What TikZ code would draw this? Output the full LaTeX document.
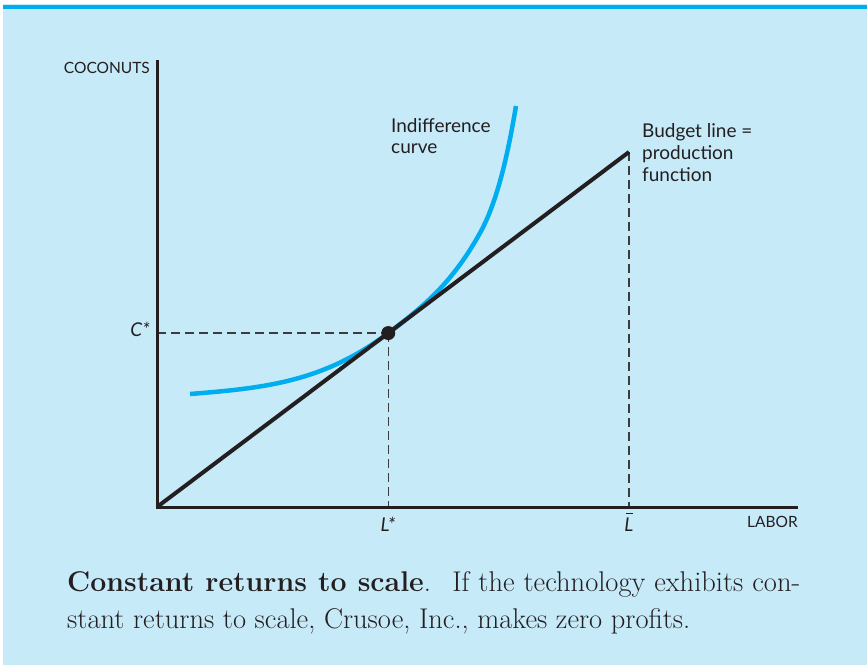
\documentclass[tikz,border=0pt]{standalone}
\usepackage{fontspec}
\newfontfamily\labfont{Lato}
\usetikzlibrary{calc}
\definecolor{bgblue}{RGB}{199,234,249}
\definecolor{barblue}{RGB}{0,174,239}
\definecolor{inkblack}{RGB}{35,31,32}
\definecolor{dashgray}{RGB}{60,60,62}
\begin{document}
\begin{tikzpicture}[x=1pt,y=-1pt,
  axis/.style={draw=inkblack,line width=3pt},
  budget/.style={draw=inkblack,line width=4pt},
  icurve/.style={draw=barblue,line width=4.5pt},
  guide/.style={draw=dashgray,line width=1.2pt,dash pattern=on 9pt off 5pt},
  small/.style={inner sep=0pt,text=inkblack,font=\labfont\fontsize{15.5}{18}\selectfont},
  mid/.style={inner sep=0pt,text=inkblack,font=\labfont\fontsize{19}{21}\selectfont},
  capt/.style={inner sep=0pt,text=inkblack,font=\fontsize{28.5}{37}\selectfont}]
\useasboundingbox (0,0) rectangle (867,665);
\fill[bgblue] (3,4) rectangle (867,665);
\fill[barblue] (3,4.5) rectangle (867,8.5);
% coordinates
\coordinate (O) at (157,507);
\coordinate (Ytop) at (157,60);
\coordinate (Xend) at (798,507);
\coordinate (E) at (629,152);
\coordinate (P) at ($(O)!0.49!(E)$);
\coordinate (S) at (190,394);
\coordinate (Q) at (480,233);
\coordinate (T) at (516,106);
% guides
\draw[guide] (O |- P) -- (P);
\draw[guide] (P) -- (P |- O);
\draw[guide] (E) -- (E |- O);
% indifference curve
\draw[icurve] (S) .. controls (265,388) and ($(P)+(-65,48.9)$) .. (P)
  .. controls ($(P)+(35,-26.3)$) and (452,283.4) .. (Q)
  .. controls (500,197) and (510,140.8) .. (T);
% axes and budget line
\draw[axis] (Ytop) -- (O) -- (Xend);
\draw[budget] (O) -- (E);
\fill[inkblack] (P) circle (7);
% labels
\node[small,anchor=base east] (coc) at (150,73) {COCONUTS};
\node[small,anchor=base east] (lab) at (798,527) {LABOR};
\node[mid,anchor=base west] (ind1) at (391,132) {Indifference};
\node[mid,anchor=base west] (ind2) at (391,153) {curve};
\node[mid,anchor=base west] (bud1) at (642,137) {Budget line =};
\node[mid,anchor=base west] (bud2) at (642,159) {production};
\node[mid,anchor=base west] (bud3) at (642,181) {function};
\node[mid,anchor=base east] (cs) at (150,336) {\itshape C*};
\node[mid,anchor=base] (ls) at (388,531) {\itshape L*};
\node[mid,anchor=base] (lb) at (629,531) {\itshape L};
\draw[inkblack,line width=1pt] ([xshift=-3pt,yshift=4pt]lb.north) -- ([xshift=4pt,yshift=4pt]lb.north);
% caption
\node[capt,anchor=base west] (c1) at (67,591) {\makebox[733pt][s]{\textbf{Constant returns to scale}. \ If the technology exhibits con-}};
\node[capt,anchor=base west] (c2) at (67,628) {stant returns to scale, Crusoe, Inc., makes zero profits.};
\end{tikzpicture}
\end{document}
